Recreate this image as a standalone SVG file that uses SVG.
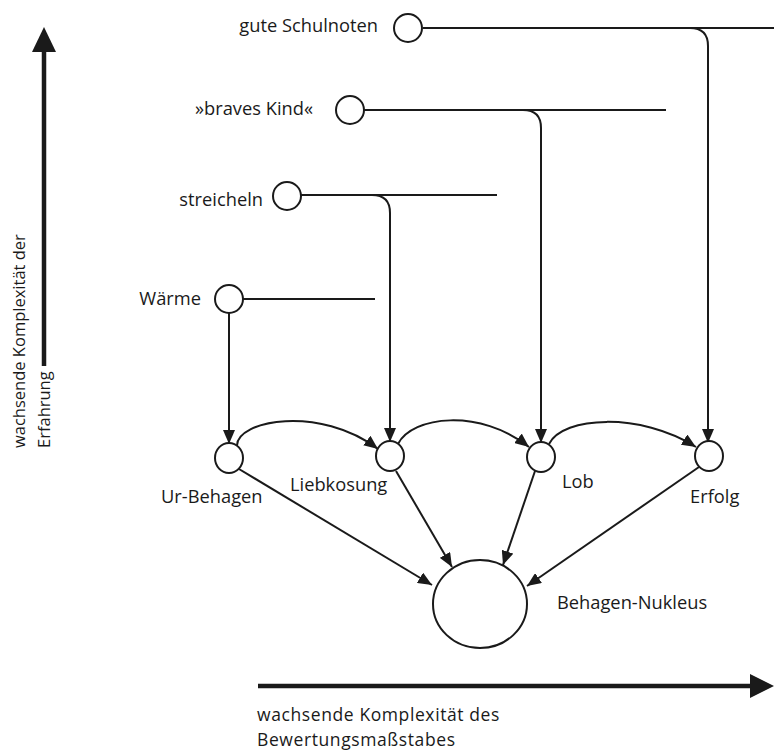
<svg xmlns="http://www.w3.org/2000/svg" width="774" height="753" viewBox="0 0 774 753">
<defs>
<marker id="arr" markerUnits="userSpaceOnUse" viewBox="0 0 14 12" refX="14" refY="6" markerWidth="14" markerHeight="12" orient="auto">
<path d="M0,0 L14,6 L0,12 z" fill="#1a1a1a"/>
</marker>
</defs>
<style>
.n{fill:#fff;stroke:#1a1a1a;stroke-width:2}
.c{fill:none;stroke:#1a1a1a;stroke-width:2}
.a{marker-end:url(#arr)}
.ax{stroke:#1a1a1a;stroke-width:4.5;fill:none}
text{font-family:"Open Sans","Liberation Sans",sans-serif;font-size:18.3px;fill:#1a1a1a}
.rot{font-size:16.5px}
.cap{font-size:17.5px;letter-spacing:0.6px}
</style>
<rect width="774" height="753" fill="#fff"/>
<g id="axes">
<line class="ax" x1="44" y1="366" x2="44" y2="48"/>
<polygon points="44,27 32,52 56,52" fill="#1a1a1a"/>
<text class="rot" transform="translate(25,448) rotate(-90)">wachsende Komplexität der</text>
<text class="rot" transform="translate(50,448) rotate(-90)">Erfahrung</text>
<line class="ax" x1="258" y1="686" x2="752" y2="686"/>
<polygon points="774,686 750,674 750,698" fill="#1a1a1a"/>
<text class="cap" x="257" y="721">wachsende Komplexität des</text>
<text class="cap" x="257" y="746">Bewertungsmaßstabes</text>
</g>
<g id="connectors">
<line class="c" x1="423" y1="28" x2="774" y2="28"/>
<path class="c a" d="M690,28 Q708,28 708,46 L708,443"/>
<line class="c" x1="364" y1="110" x2="666" y2="110"/>
<path class="c a" d="M523,110 Q541,110 541,128 L541,443"/>
<line class="c" x1="301" y1="195" x2="497" y2="195"/>
<path class="c a" d="M372,195 Q390,195 390,213 L390,442"/>
<line class="c" x1="243" y1="299" x2="375" y2="299"/>
<line class="c a" x1="229" y1="313" x2="229" y2="444"/>
<path class="c a" d="M237,446 C236,420 320,405 378,449"/>
<path class="c a" d="M398,444 C412,416 480,408 529,447"/>
<path class="c a" d="M549,444 C563,416 640,412 696,447"/>
<line class="c a" x1="239" y1="469" x2="432" y2="585"/>
<line class="c a" x1="396" y1="471" x2="452" y2="567"/>
<line class="c a" x1="535" y1="471" x2="503" y2="565"/>
<line class="c a" x1="699" y1="467" x2="527" y2="586"/>
</g>
<g id="gute-schulnoten"><circle class="n" cx="408" cy="28" r="14"/><text x="378" y="32" text-anchor="end">gute Schulnoten</text></g>
<g id="braves-kind"><circle class="n" cx="350" cy="110" r="14"/><text x="313" y="115" text-anchor="end">»braves Kind«</text></g>
<g id="streicheln"><circle class="n" cx="287" cy="196" r="14"/><text x="263" y="206" text-anchor="end">streicheln</text></g>
<g id="waerme"><circle class="n" cx="229" cy="299" r="14"/><text x="201" y="305" text-anchor="end">Wärme</text></g>
<g id="ur-behagen"><ellipse class="n" cx="229" cy="458" rx="14" ry="15"/><text x="161" y="503">Ur-Behagen</text></g>
<g id="liebkosung"><ellipse class="n" cx="390" cy="456" rx="14" ry="15"/><text x="290" y="491">Liebkosung</text></g>
<g id="lob"><ellipse class="n" cx="541" cy="457" rx="14" ry="15"/><text x="562" y="488">Lob</text></g>
<g id="erfolg"><ellipse class="n" cx="709" cy="456" rx="14" ry="15"/><text x="690" y="503">Erfolg</text></g>
<g id="behagen-nukleus"><ellipse class="n" cx="480" cy="604" rx="47" ry="44"/><text x="557" y="609">Behagen-Nukleus</text></g>
</svg>
